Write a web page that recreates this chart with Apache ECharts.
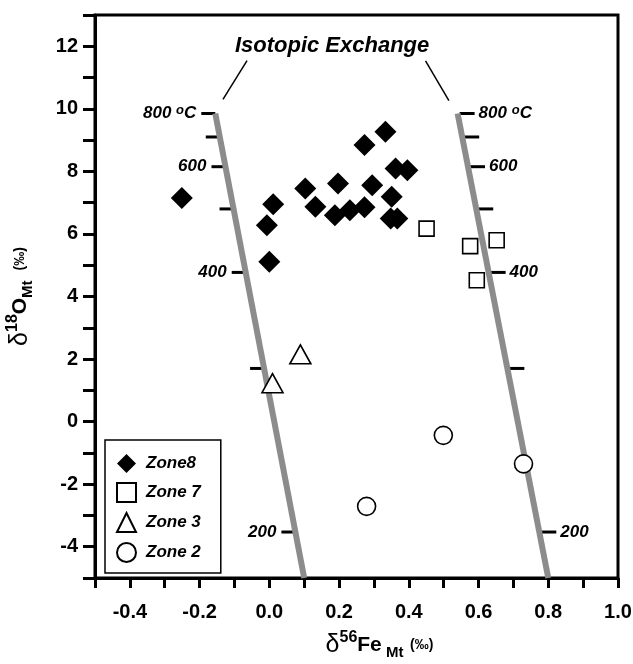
<!DOCTYPE html>
<html>
<head>
<meta charset="utf-8">
<script src="https://cdn.jsdelivr.net/npm/echarts@6/dist/echarts.min.js"></script>
<style>
  html, body { margin: 0; padding: 0; background: #fff; }
  #chart { width: 633px; height: 664px; }
</style>
</head>
<body>
<div id="chart"></div>
<script>
// Zone 8 - filled diamonds
const zone8X = [-0.251, 0.011, -0.007, 0.0, 0.103, 0.132, 0.197, 0.188, 0.231, 0.273, 0.295, 0.273, 0.333, 0.362, 0.396, 0.351, 0.348, 0.367]
const zone8Y = [7.15, 6.95, 6.28, 5.11, 7.45, 6.87, 7.61, 6.60, 6.76, 6.85, 7.56, 8.84, 9.27, 8.09, 8.04, 7.19, 6.49, 6.49]
// Zone 7 - open squares
const zone7X = [0.451, 0.576, 0.652, 0.595]
const zone7Y = [6.17, 5.61, 5.80, 4.52]
// Zone 3 - open triangles
const zone3X = [0.089, 0.009]
const zone3Y = [2.15, 1.23]
// Zone 2 - open circles
const zone2X = [0.499, 0.729, 0.279]
const zone2Y = [-0.44, -1.35, -2.71]

// isotopic exchange lines (800 oC at top, 200 oC below the axis)
const leftLineX = [-0.155, 0.1]
const rightLineX = [0.54, 0.8]
const lineY = [9.85, -5]

// temperature ticks along both lines
const tempY = [9.85, 9.1, 8.15, 6.8, 4.77, 1.7, -3.53]
const tempLabels = ['800 °C', '', '600', '', '400', '', '200']

// annotation
const noteText = 'Isotopic Exchange'
const notePos = [0.18, 12]
const leaderLeft = [[-0.064, 11.54], [-0.133, 10.3]]
const leaderRight = [[0.448, 11.53], [0.515, 10.26]]

const FONT = '"Liberation Sans", Arial, Helvetica, sans-serif'

const pairs = (xs, ys) => xs.map((x, i) => [x, ys[i]])

// x on an exchange line for a given y
const xOnLine = (xs, y) => xs[0] + (y - lineY[0]) * (xs[1] - xs[0]) / (lineY[1] - lineY[0])

const tempRich = {
  n: { fontSize: 17, fontStyle: 'italic', fontWeight: 'bold', fontFamily: FONT, color: '#000', lineHeight: 20 },
  sup: { fontSize: 13, fontStyle: 'italic', fontWeight: 'bold', fontFamily: FONT, color: '#000', verticalAlign: 'top', lineHeight: 12 }
}
const tempRichText = (t) => t.replace(/°C/, '{sup|o}{n|C}').replace(/^(\d+ ?)/, '{n|$1}')

// ticks + labels along one exchange line
const tempSeries = (xs, side) => ({
  type: 'custom',
  z: 2,
  silent: true,
  data: tempY.map(y => [xOnLine(xs, y), y]),
  renderItem: (params, api) => {
    const p = api.coord([api.value(0), api.value(1)])
    const label = tempLabels[params.dataIndex]
    const x1 = side === 'left' ? p[0] - 14 : p[0] + 2
    const x2 = side === 'left' ? p[0] : p[0] + 17
    const children = [{
      type: 'line',
      shape: { x1: x1, y1: p[1], x2: x2, y2: p[1] },
      style: { stroke: '#000', lineWidth: 3 }
    }]
    if (label) {
      children.push({
        type: 'text',
        style: {
          text: tempRichText(label),
          rich: tempRich,
          x: side === 'left' ? p[0] - 19 : p[0] + 21,
          y: p[1],
          align: side === 'left' ? 'right' : 'left',
          verticalAlign: 'middle'
        }
      })
    }
    return { type: 'group', children: children }
  }
})

const hollow = { color: '#fff', borderColor: '#000', borderWidth: 1.6, opacity: 1 }

const titleRich = {
  d: { fontSize: 25, fontFamily: FONT, color: '#000', lineHeight: 30 },
  b: { fontSize: 21, fontWeight: 'bold', fontFamily: FONT, color: '#000', lineHeight: 30 },
  sup: { fontSize: 16, fontWeight: 'bold', fontFamily: FONT, color: '#000', verticalAlign: 'top', lineHeight: 16 },
  sub: { fontSize: 15, fontWeight: 'bold', fontFamily: FONT, color: '#000', verticalAlign: 'bottom', lineHeight: 12 },
  p: { fontSize: 14, fontWeight: 'bold', fontFamily: FONT, color: '#000', lineHeight: 26 }
}

const chart = echarts.init(document.getElementById('chart'))

const option = {
  backgroundColor: '#fff',
  animation: false,
  grid: {
    left: 95, right: 15, top: 15, bottom: 86,
    outerBoundsMode: 'none',
    show: true, borderColor: '#000', borderWidth: 3
  },
  legend: {
    data: ['Zone8', 'Zone 7', 'Zone 3', 'Zone 2'],
    orient: 'vertical',
    left: 105,
    top: 440,
    padding: [14, 20, 10, 11],
    itemWidth: 19,
    itemHeight: 19,
    itemGap: 9,
    borderColor: '#000',
    borderWidth: 1.5,
    backgroundColor: '#fff',
    textStyle: { fontSize: 17, fontStyle: 'italic', fontWeight: 'bold', fontFamily: FONT, color: '#000', padding: [0, 0, 0, 5] }
  },
  xAxis: {
    type: 'value',
    min: -0.5,
    max: 1.0,
    interval: 0.1,
    name: '{d|δ}{sup|56}{b|Fe}{sub| Mt}  {p|(‰)}',
    nameLocation: 'middle',
    nameGap: 52,
    nameTextStyle: { rich: titleRich, padding: [0, 0, 0, 46] },
    axisLine: { onZero: false, lineStyle: { color: '#000', width: 3 } },
    axisTick: { length: 10, lineStyle: { color: '#000', width: 3 } },
    axisLabel: {
      margin: 24,
      color: '#000',
      fontSize: 20,
      fontWeight: 'bold',
      fontFamily: FONT,
      formatter: v => (Math.round(v * 10) % 2 === 0 ? v.toFixed(1) : '')
    },
    splitLine: { show: false }
  },
  yAxis: {
    type: 'value',
    min: -5,
    max: 13,
    interval: 1,
    name: '{d|δ}{sup|18}{b|O}{sub|Mt}   {p|(‰)}',
    nameLocation: 'middle',
    nameRotate: 90,
    nameGap: 60,
    nameTextStyle: { rich: titleRich },
    axisLine: { onZero: false, lineStyle: { color: '#000', width: 3 } },
    axisTick: { length: 12, lineStyle: { color: '#000', width: 3 } },
    axisLabel: {
      margin: 17,
      color: '#000',
      fontSize: 20,
      fontWeight: 'bold',
      fontFamily: FONT,
      formatter: v => (v % 2 === 0 ? String(v) : '')
    },
    splitLine: { show: false }
  },
  series: [
    tempSeries(leftLineX, 'left'),
    tempSeries(rightLineX, 'right'),
    {
      type: 'line', z: 3, silent: true, showSymbol: false,
      data: pairs(leftLineX, lineY),
      lineStyle: { color: '#8c8c8c', width: 6, cap: 'butt' }
    },
    {
      type: 'line', z: 3, silent: true, showSymbol: false,
      data: pairs(rightLineX, lineY),
      lineStyle: { color: '#8c8c8c', width: 6, cap: 'butt' }
    },
    {
      type: 'line', z: 3, silent: true, showSymbol: false,
      data: leaderLeft,
      lineStyle: { color: '#000', width: 1.5 }
    },
    {
      type: 'line', z: 3, silent: true, showSymbol: false,
      data: leaderRight,
      lineStyle: { color: '#000', width: 1.5 }
    },
    {
      type: 'scatter', z: 3, silent: true,
      data: [notePos],
      symbolSize: 0,
      itemStyle: { opacity: 1 },
      label: {
        show: true,
        position: 'inside',
        formatter: noteText,
        fontSize: 22,
        fontStyle: 'italic',
        fontWeight: 'bold',
        fontFamily: FONT,
        color: '#000'
      }
    },
    {
      name: 'Zone8', type: 'scatter', z: 5,
      symbol: 'diamond', symbolSize: 22,
      itemStyle: { color: '#000', borderColor: '#000', borderWidth: 0, opacity: 1 },
      data: pairs(zone8X, zone8Y)
    },
    {
      name: 'Zone 7', type: 'scatter', z: 5,
      symbol: 'rect', symbolSize: 15,
      itemStyle: hollow,
      data: pairs(zone7X, zone7Y)
    },
    {
      name: 'Zone 3', type: 'scatter', z: 5,
      symbol: 'triangle', symbolSize: [21, 19],
      itemStyle: hollow,
      data: pairs(zone3X, zone3Y)
    },
    {
      name: 'Zone 2', type: 'scatter', z: 5,
      symbol: 'circle', symbolSize: 18,
      itemStyle: hollow,
      data: pairs(zone2X, zone2Y)
    }
  ]
}

chart.setOption(option)
</script>
</body>
</html>
